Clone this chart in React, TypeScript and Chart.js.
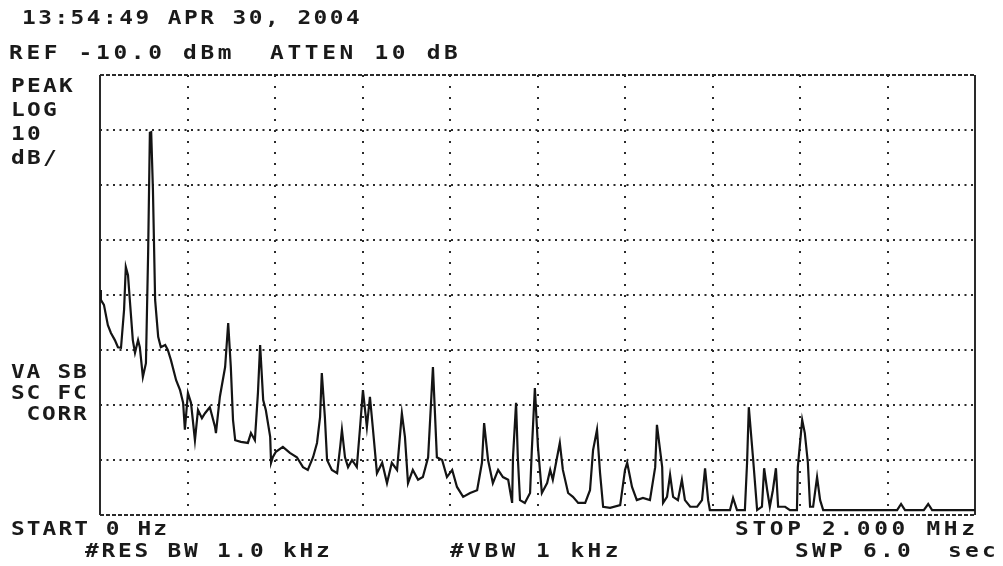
import React, { useEffect, useRef } from "react";
import { Chart, registerables } from "chart.js";

Chart.register(...registerables);

// Sweep settings
const START_KHZ = 0;
const STOP_KHZ = 2000;
const REF_DBM = -10;
const DB_PER_DIV = 10;
const V_DIVS = 8;
const H_DIVS = 10;

// Trace: frequency (kHz) and level (dBm)
const FREQ_KHZ = [0,2,9,18,25,34,41,48,55,59,64,69,75,80,87,91,98,105,110,114,117,121,126,133,139,149,155,162,174,183,190,194,201,208,217,224,233,240,251,263,265,274,286,293,299,304,309,322,338,345,354,361,366,373,379,389,391,395,402,418,434,450,464,475,487,496,503,507,514,519,530,542,549,553,560,567,576,587,594,601,610,617,624,633,645,656,667,679,690,697,704,715,727,738,750,761,770,782,793,805,816,830,846,862,873,878,887,898,910,921,933,942,944,951,955,960,971,983,987,994,1001,1010,1022,1029,1035,1051,1058,1070,1081,1093,1109,1120,1127,1136,1143,1150,1166,1189,1200,1205,1216,1227,1241,1257,1269,1273,1285,1287,1296,1303,1310,1321,1330,1337,1349,1365,1376,1383,1390,1394,1440,1447,1456,1474,1479,1483,1493,1502,1513,1518,1525,1531,1538,1545,1550,1566,1577,1593,1595,1605,1611,1618,1623,1630,1639,1646,1653,1822,1831,1840,1883,1893,1902,2000];
const LEVEL_DBM = [-49.1,-50.9,-51.8,-55.5,-56.9,-58.2,-59.5,-59.6,-52.7,-44.9,-46.4,-51.8,-58.2,-60.5,-58.2,-59.5,-64.9,-62.4,-42.4,-20.5,-20.4,-30.9,-50.9,-57.6,-59.5,-59.1,-60,-61.8,-65.5,-67.3,-69.6,-74.5,-67.8,-69.6,-76.4,-70.9,-72.4,-71.5,-70.4,-74,-75.1,-68.5,-63.1,-55.1,-63.1,-72.7,-76.4,-76.7,-76.9,-75.1,-76.4,-67.8,-59.1,-69.1,-70.9,-75.8,-80.5,-79.5,-78.5,-77.6,-78.7,-79.5,-81.3,-81.8,-79.5,-76.9,-72.2,-64.2,-72.2,-80,-81.8,-82.4,-77.6,-74.5,-79.5,-81.3,-80,-81.3,-74.5,-67.3,-74,-68.5,-74.5,-82.4,-80.5,-84.2,-80.5,-81.8,-71.5,-75.8,-84.2,-81.8,-83.6,-83.1,-79.5,-63.1,-79.5,-80,-83.1,-81.8,-84.9,-86.7,-86,-85.5,-80.5,-73.3,-80,-84.2,-81.8,-83.1,-83.6,-87.8,-79.5,-69.6,-79.5,-87.3,-87.8,-86,-78.2,-66.9,-77.6,-86,-84.2,-81.8,-83.6,-76.9,-81.8,-86,-86.7,-87.8,-87.8,-85.5,-78.2,-74.5,-82.4,-88.5,-88.7,-88.2,-81.8,-80.5,-84.9,-87.3,-86.9,-87.3,-81.3,-73.6,-81.3,-87.8,-86.7,-82.7,-86.7,-87.3,-83.6,-87.3,-88.5,-88.5,-87.3,-81.5,-87.3,-89.1,-89.1,-86.9,-89.1,-89.1,-80.5,-70.4,-80,-89.1,-88.5,-81.5,-85.5,-88.5,-85.5,-81.5,-88.5,-88.5,-89.1,-89.1,-81.3,-72.7,-75.1,-80.5,-88.5,-88.5,-83.1,-87.3,-89.1,-89.1,-88,-89.1,-89.1,-88,-89.1,-89.1];

// Screen annotations
const TEXT_TIME = "13:54:49 APR 30, 2004";
const TEXT_REF = "REF -10.0 dBm  ATTEN 10 dB";
const TEXT_MODE = ["PEAK", "LOG", "10", "dB/"];
const TEXT_CORR = ["VA SB", "SC FC", " CORR"];
const TEXT_START = "START 0 Hz";
const TEXT_STOP = "STOP 2.000 MHz";
const TEXT_RBW = "#RES BW 1.0 kHz";
const TEXT_VBW = "#VBW 1 kHz";
const TEXT_SWP = "SWP 6.0  sec";

const FONT_PX = 19;
const ADV = 0.602 * FONT_PX;
const SX = 1.2;

function Label({ text, left, capTop, pitch }: { text: string; left: number; capTop: number; pitch: number }) {
  const ls = pitch / SX - ADV;
  return (
    <div
      style={{
        position: "absolute",
        left,
        top: capTop - 2,
        fontFamily: "'DejaVu Sans Mono', monospace",
        fontWeight: "bold",
        fontSize: FONT_PX,
        lineHeight: `${FONT_PX}px`,
        letterSpacing: `${ls}px`,
        whiteSpace: "pre",
        color: "#1a1a1a",
        transform: `scaleX(${SX})`,
        transformOrigin: "left top",
      }}
    >
      {text}
    </div>
  );
}

export default function App() {
  const ref = useRef<HTMLCanvasElement | null>(null);

  useEffect(() => {
    if (!ref.current) return;
    const n = Math.min(FREQ_KHZ.length, LEVEL_DBM.length);
    const pts = [] as { x: number; y: number }[];
    for (let i = 0; i < n; i++) pts.push({ x: FREQ_KHZ[i], y: LEVEL_DBM[i] });
    const bottom = REF_DBM - DB_PER_DIV * V_DIVS;
    const xStep = (STOP_KHZ - START_KHZ) / H_DIVS;

    const chart = new Chart(ref.current, {
      type: "line",
      data: {
        datasets: [
          {
            data: pts,
            borderColor: "#141414",
            borderWidth: 2.2,
            pointRadius: 0,
            tension: 0,
            stepped: false,
            fill: false,
          },
        ],
      },
      options: {
        animation: false,
        responsive: false,
        events: [],
        layout: { padding: { left: 100, top: 75, right: 28, bottom: 51 } },
        plugins: { legend: { display: false }, tooltip: { enabled: false }, title: { display: false } },
        scales: {
          x: {
            type: "linear",
            min: START_KHZ,
            max: STOP_KHZ,
            ticks: { display: false, stepSize: xStep },
            grid: {
              drawTicks: false,
              color: "#2a2a2a",
              lineWidth: (c: any) => (c.tick && (c.tick.value === START_KHZ || c.tick.value === STOP_KHZ) ? 2 : 2),
            },
            border: {
              display: false,
              dash: (c: any) => (c.tick && (c.tick.value === START_KHZ || c.tick.value === STOP_KHZ) ? [] : [2, 9]),
            },
          },
          y: {
            type: "linear",
            min: bottom,
            max: REF_DBM,
            ticks: { display: false, stepSize: DB_PER_DIV },
            grid: { drawTicks: false, color: "#2a2a2a", lineWidth: 2 },
            border: {
              display: false,
              dash: (c: any) => (c.tick && (c.tick.value === REF_DBM || c.tick.value === bottom) ? [4, 2] : [2, 4.5]),
            },
          },
        },
      },
    } as any);
    return () => chart.destroy();
  }, []);

  return (
    <div style={{ position: "absolute", left: 0, top: 0, width: 1003, height: 566, background: "#fff" }}>
      <canvas ref={ref} width={1003} height={566} style={{ position: "absolute", left: 0, top: 0, width: 1003, height: 566 }} />
      <Label text={TEXT_TIME} left={22} capTop={10} pitch={16.2} />
      <Label text={TEXT_REF} left={9} capTop={45} pitch={17.4} />
      {TEXT_MODE.map((t, i) => (
        <Label key={t} text={t} left={11} capTop={78 + i * 24} pitch={16} />
      ))}
      {TEXT_CORR.map((t, i) => (
        <Label key={t} text={t} left={11} capTop={364 + i * 21} pitch={15.5} />
      ))}
      <Label text={TEXT_START} left={11} capTop={521} pitch={15.8} />
      <Label text={TEXT_STOP} left={735} capTop={521} pitch={17.4} />
      <Label text={TEXT_RBW} left={85} capTop={543} pitch={16.5} />
      <Label text={TEXT_VBW} left={450} capTop={543} pitch={17.2} />
      <Label text={TEXT_SWP} left={795} capTop={543} pitch={17} />
    </div>
  );
}
